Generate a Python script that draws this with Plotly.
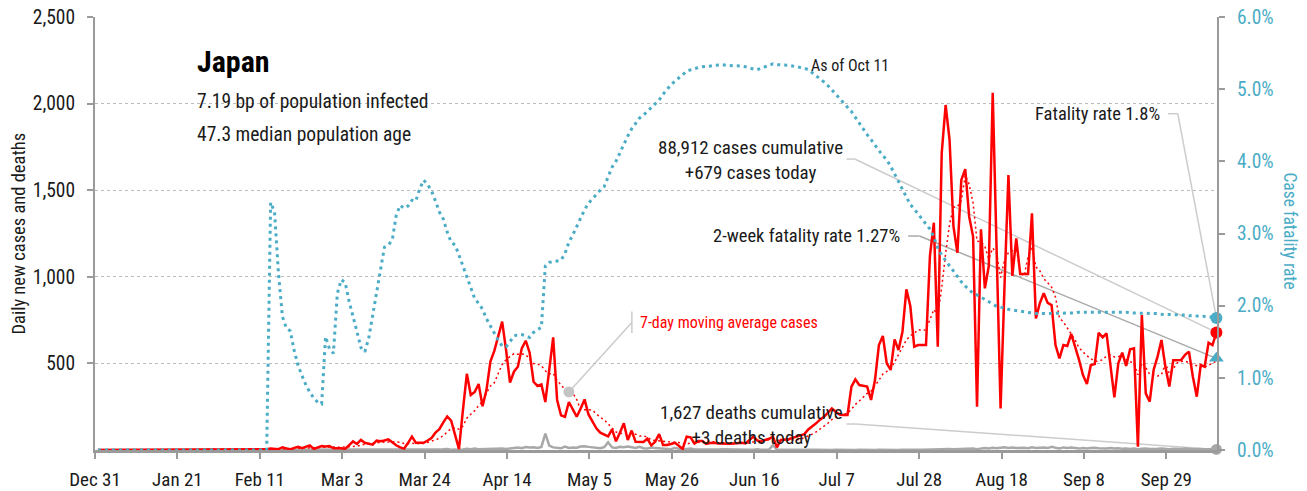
import pandas as pd
import plotly.graph_objects as go

start_date = '2019-12-31'

# daily new cases, Dec 31 .. Oct 11
cases = [
    0, 0, 0, 0, 0, 0, 0, 0, 0, 0,
    0, 0, 0, 0, 0, 0, 1, 0, 0, 0,
    0, 0, 0, 0, 1, 1, 1, 0, 3, 4,
    4, 3, 2, 0, 2, 0, 0, 0, 2, 0,
    0, 3, 0, 4, 8, 8, 5, 16, 10, 3,
    12, 19, 10, 18, 27, 6, 15, 23, 20, 23,
    10, 12, 10, 6, 30, 50, 35, 58, 42, 35,
    31, 54, 50, 55, 62, 45, 27, 15, 8, 40,
    77, 42, 40, 42, 55, 69, 100, 120, 160, 194,
    170, 90, 5, 230, 440, 318, 335, 381, 253, 346,
    510, 572, 655, 741, 577, 389, 452, 481, 587, 631,
    562, 394, 370, 379, 277, 462, 650, 289, 200, 192,
    277, 235, 192, 240, 292, 205, 165, 125, 100, 90,
    79, 119, 50, 100, 154, 58, 112, 48, 46, 46,
    65, 27, 48, 92, 29, 29, 35, 42, 25, 6,
    77, 73, 38, 52, 52, 35, 40, 42, 38, 36,
    35, 36, 38, 42, 42, 38, 55, 77, 55, 48,
    58, 65, 77, 15, 58, 60, 62, 70, 77, 85,
    92, 119, 135, 154, 175, 192, 215, 240, 221, 205,
    202, 202, 366, 408, 375, 370, 366, 289, 404, 606,
    658, 500, 462, 639, 577, 683, 928, 831, 597, 606,
    606, 606, 1120, 1312, 597, 1713, 1992, 1790, 1290, 1139,
    1559, 1622, 1347, 1232, 250, 1274, 933, 1062, 2063, 1150,
    240, 943, 1588, 1005, 1222, 1016, 1016, 1016, 1366, 760,
    847, 905, 849, 837, 606, 529, 606, 600, 670, 597,
    520, 433, 381, 490, 496, 677, 650, 673, 471, 304,
    500, 562, 485, 581, 587, 19, 779, 327, 279, 462,
    539, 635, 481, 366, 518, 520, 520, 549, 568, 423,
    308, 490, 481, 619, 606, 679,
]

# daily new deaths
deaths = [
    0, 0, 0, 0, 0, 0, 0, 0, 0, 0,
    0, 0, 0, 0, 0, 0, 0, 0, 0, 0,
    0, 0, 0, 0, 0, 0, 0, 0, 0, 0,
    0, 0, 0, 0, 0, 0, 0, 0, 0, 0,
    0, 0, 0, 0, 1, 0, 0, 0, 0, 0,
    0, 0, 0, 0, 0, 0, 0, 1, 2, 0,
    1, 2, 1, 0, 0, 1, 0, 0, 1, 1,
    2, 2, 2, 1, 2, 2, 4, 2, 1, 2,
    3, 2, 4, 3, 2, 1, 2, 3, 4, 6,
    2, 3, 0, 3, 7, 5, 8, 4, 5, 8,
    7, 10, 12, 9, 6, 8, 12, 14, 10, 17,
    14, 16, 12, 18, 95, 25, 15, 12, 10, 20,
    12, 15, 13, 20, 22, 18, 15, 12, 10, 16,
    45, 15, 12, 18, 16, 20, 14, 12, 18, 10,
    8, 14, 12, 10, 6, 8, 5, 12, 7, 3,
    6, 9, 5, 4, 3, 6, 4, 2, 3, 5,
    4, 2, 3, 1, 3, 2, 1, 2, 4, 1,
    0, 2, 28, 2, 1, 3, 1, 2, 0, 1,
    2, 0, 1, 1, 0, 2, 1, 0, 1, 0,
    1, 0, 1, 0, 1, 0, 0, 1, 0, 1,
    0, 2, 0, 1, 0, 2, 1, 0, 2, 1,
    2, 3, 1, 2, 5, 3, 4, 6, 4, 5,
    8, 7, 6, 8, 5, 10, 12, 9, 13, 10,
    14, 16, 12, 15, 11, 14, 13, 10, 16, 12,
    15, 14, 11, 18, 13, 9, 15, 12, 14, 10,
    8, 12, 9, 11, 13, 10, 8, 9, 11, 8,
    10, 7, 9, 6, 8, 5, 7, 9, 6, 5,
    7, 8, 6, 4, 7, 5, 6, 8, 5, 4,
    6, 7, 5, 4, 6, 3,
]

# case fatality rate, %
fatality_pct = [
    0, 0, 0, 0, 0, 0, 0, 0, 0, 0,
    0, 0, 0, 0, 0, 0, 0, 0, 0, 0,
    0, 0, 0, 0, 0, 0, 0, 0, 0, 0,
    0, 0, 0, 0, 0, 0, 0, 0, 0, 0,
    0, 0, 0, 0, 3.43, 3.30, 2.45, 1.85, 1.69, 1.65,
    1.38, 1.17, 1.03, 0.90, 0.80, 0.72, 0.66, 0.64, 1.57, 1.40,
    1.34, 2.17, 2.36, 2.32, 2.06, 1.83, 1.64, 1.42, 1.36, 1.55,
    1.87, 2.22, 2.54, 2.81, 2.84, 2.91, 3.25, 3.39, 3.35, 3.38,
    3.46, 3.45, 3.62, 3.74, 3.68, 3.59, 3.45, 3.30, 3.20, 3.02,
    2.88, 2.84, 2.70, 2.55, 2.40, 2.24, 2.10, 2.03, 1.95, 1.82,
    1.72, 1.60, 1.52, 1.44, 1.43, 1.50, 1.58, 1.60, 1.60, 1.58,
    1.56, 1.63, 1.66, 1.70, 2.55, 2.60, 2.61, 2.62, 2.63, 2.72,
    2.88, 2.98, 3.10, 3.22, 3.33, 3.42, 3.48, 3.55, 3.60, 3.65,
    3.78, 3.92, 4.00, 4.12, 4.23, 4.35, 4.45, 4.52, 4.60, 4.64,
    4.69, 4.74, 4.79, 4.85, 4.93, 5.00, 5.06, 5.11, 5.15, 5.20,
    5.25, 5.27, 5.29, 5.30, 5.31, 5.31, 5.32, 5.33, 5.34, 5.34,
    5.33, 5.33, 5.33, 5.32, 5.32, 5.31, 5.29, 5.28, 5.27, 5.29,
    5.31, 5.33, 5.35, 5.34, 5.34, 5.33, 5.33, 5.32, 5.31, 5.31,
    5.29, 5.27, 5.23, 5.19, 5.14, 5.10, 5.05, 4.99, 4.93, 4.87,
    4.82, 4.76, 4.69, 4.61, 4.53, 4.44, 4.37, 4.30, 4.22, 4.15,
    4.08, 4.02, 3.93, 3.82, 3.72, 3.60, 3.50, 3.40, 3.34, 3.27,
    3.21, 3.14, 3.06, 2.95, 2.80, 2.70, 2.62, 2.55, 2.48, 2.40,
    2.33, 2.27, 2.22, 2.17, 2.15, 2.12, 2.08, 2.05, 2.02, 1.99,
    1.98, 1.96, 1.95, 1.94, 1.93, 1.92, 1.91, 1.90, 1.89, 1.89,
    1.89, 1.89, 1.89, 1.89, 1.89, 1.89, 1.90, 1.90, 1.90, 1.90,
    1.91, 1.91, 1.91, 1.91, 1.91, 1.92, 1.92, 1.92, 1.92, 1.92,
    1.91, 1.91, 1.91, 1.90, 1.90, 1.90, 1.90, 1.89, 1.89, 1.89,
    1.89, 1.88, 1.88, 1.88, 1.88, 1.87, 1.87, 1.87, 1.86, 1.86,
    1.86, 1.86, 1.85, 1.85, 1.84, 1.83,
]

tick_labels = ['Dec 31', 'Jan 21', 'Feb 11', 'Mar 3', 'Mar 24', 'Apr 14', 'May 5',
               'May 26', 'Jun 16', 'Jul 7', 'Jul 28', 'Aug 18', 'Sep 8', 'Sep 29']
left_ticks = [500, 1000, 1500, 2000, 2500]

country = 'Japan'
infected_bp = 7.19
median_age = 47.3
cumulative_cases = 88912
cumulative_deaths = 1627
fatality_rate = 1.8
two_week_rate = 1.27
as_of = 'Oct 11'

FONT = 'Roboto Condensed, Liberation Sans Narrow, Roboto, sans-serif'
RED = '#ff0000'
GREY = '#a8a8a8'
TEAL = '#4bacc6'
AXIS = '#9a9a9a'
LEADER = '#cccccc'
INK = '#1a1a1a'

start = pd.Timestamp(start_date)
dates = pd.date_range(start, periods=len(cases), freq='D') + pd.Timedelta(hours=18)
ma7 = pd.Series(cases).rolling(7, min_periods=1).mean()
last = dates[-1]


def day(n):
    return (start + pd.Timedelta(days=n)).strftime('%Y-%m-%d %H:%M')


fig = go.Figure()

fig.add_scatter(x=dates, y=fatality_pct, yaxis='y2', mode='lines',
                line=dict(color=TEAL, width=3, dash='3px,4px'))
fig.add_scatter(x=dates, y=deaths, mode='lines', line=dict(color=GREY, width=2.5))
fig.add_scatter(x=dates, y=cases, mode='lines', line=dict(color=RED, width=2.5))
fig.add_scatter(x=dates, y=ma7, mode='lines', line=dict(color=RED, width=1.5, dash='2px,3px'))

# end markers
fig.add_scatter(x=[last], y=[deaths[-1]], mode='markers', cliponaxis=False,
                marker=dict(color=GREY, size=11))
fig.add_scatter(x=[last], y=[cases[-1]], mode='markers', cliponaxis=False,
                marker=dict(color=RED, size=12))
fig.add_scatter(x=[last], y=[fatality_pct[-1]], yaxis='y2', mode='markers', cliponaxis=False,
                marker=dict(color=TEAL, size=12))
fig.add_scatter(x=[last], y=[two_week_rate], yaxis='y2', mode='markers', cliponaxis=False,
                marker=dict(color=TEAL, size=13, symbol='triangle-up'))
fig.add_scatter(x=[dates[120]], y=[ma7[120]], mode='markers',
                marker=dict(color='#c4c4c4', size=11))

shapes = [
    # fatality rate
    dict(type='line', xref='x', yref='y2', x0=day(273.4), y0=4.66, x1=day(275.9), y1=4.66),
    dict(type='line', xref='x', yref='y2', x0=day(275.9), y0=4.66, x1=last, y1=fatality_pct[-1]),
    # cumulative cases
    dict(type='line', xref='x', yref='y', x0=day(191.5), y0=1680, x1=day(193.6), y1=1680),
    dict(type='line', xref='x', yref='y', x0=day(193.6), y0=1680, x1=last, y1=cases[-1]),
    # 2-week rate
    dict(type='line', xref='x', yref='y2', x0=day(207.2), y0=2.965, x1=day(210.1), y1=2.965,
         line=dict(color='#aaaaaa', width=1.5)),
    dict(type='line', xref='x', yref='y2', x0=day(210.1), y0=2.965, x1=last, y1=two_week_rate,
         line=dict(color='#aaaaaa', width=1.5)),
    # cumulative deaths
    dict(type='line', xref='x', yref='y', x0=day(191.5), y0=150, x1=day(193.8), y1=150),
    dict(type='line', xref='x', yref='y', x0=day(193.8), y0=150, x1=last, y1=deaths[-1]),
    # 7-day average callout
    dict(type='line', xref='x', yref='y', x0=day(136.8), y0=675, x1=day(136.8), y1=800),
    dict(type='line', xref='x', yref='y', x0=day(136.8), y0=736, x1=dates[120], y1=ma7[120]),
]
for s in shapes:
    s.setdefault('line', dict(color=LEADER, width=1.5))
    s['layer'] = 'below'

annotations = [
    dict(text=f'<b>{country}</b>', x=0.0891, y=0.898, font=dict(size=30, color='#000')),
    dict(text=f'{infected_bp} bp of population infected', x=0.0891, y=0.806,
         font=dict(size=19.5, color=INK)),
    dict(text=f'{median_age} median population age', x=0.0891, y=0.7275,
         font=dict(size=19.5, color=INK)),
    dict(text=f'As of {as_of}', x=0.636, y=0.887, font=dict(size=16, color=INK)),
    dict(text=f'{cumulative_cases:,} cases cumulative<br>+{cases[-1]} cases today',
         x=0.584, y=0.67, xanchor='center', align='center', font=dict(size=19, color=INK)),
    dict(text=f'Fatality rate {fatality_rate}%', x=0.951, y=0.776, xanchor='right',
         font=dict(size=18.5, color=INK)),
    dict(text=f'2-week fatality rate {two_week_rate}%', x=0.719, y=0.494, xanchor='right',
         font=dict(size=18.5, color=INK)),
    dict(text=f'{cumulative_deaths:,} deaths cumulative<br>+{deaths[-1]} deaths today',
         x=0.585, y=0.0577, xanchor='center', align='center', font=dict(size=19, color=INK)),
    dict(text='7-day moving average cases', x=0.484, y=0.2956, font=dict(size=16, color=RED)),
    dict(text='Daily new cases and deaths', x=-0.0686, y=0.5, xanchor='center',
         textangle=-90, font=dict(size=18.5, color=INK)),
    dict(text='Case fatality rate', x=1.065, y=0.505, xanchor='center',
         textangle=90, font=dict(size=17.5, color=TEAL)),
]
for a in annotations:
    a.update(xref='paper', yref='paper', showarrow=False)
    a.setdefault('xanchor', 'left')
    a.setdefault('yanchor', 'middle')
    a.setdefault('align', 'left')

fig.update_layout(
    width=1291,
    height=483,
    margin=dict(l=87, r=82, t=9, b=41),
    paper_bgcolor='white',
    plot_bgcolor='white',
    showlegend=False,
    hovermode=False,
    font=dict(family=FONT, size=20, color=INK),
    shapes=shapes,
    annotations=annotations,
    xaxis=dict(
        type='date',
        range=[day(0), day(285.9)],
        tickvals=pd.date_range(start, periods=len(tick_labels), freq='21D'),
        ticktext=tick_labels,
        ticks='outside', ticklen=6, tickwidth=2, tickcolor=AXIS,
        ticklabelstandoff=4,
        showline=True, linecolor=AXIS, linewidth=2.5,
        showgrid=False, zeroline=False, automargin=False,
        tickfont=dict(size=19, color=INK),
    ),
    yaxis=dict(
        range=[0, 2500],
        tickvals=left_ticks,
        ticktext=[f'{v:,}' for v in left_ticks],
        ticks='outside', ticklen=6, tickwidth=2, tickcolor=AXIS,
        ticklabelstandoff=8, ticklabeloverflow='allow',
        showline=True, linecolor=AXIS, linewidth=2,
        showgrid=True, gridcolor='#bbbbbb', griddash='dot', gridwidth=1,
        zeroline=False, automargin=False,
        tickfont=dict(size=19.5, color=INK),
    ),
    yaxis2=dict(
        overlaying='y', side='right',
        range=[0, 6], dtick=1, tickformat='.1f', ticksuffix='%',
        ticks='outside', ticklen=6, tickwidth=2, tickcolor=AXIS,
        ticklabelstandoff=8, ticklabeloverflow='allow',
        showline=True, linecolor=AXIS, linewidth=2,
        showgrid=False, zeroline=False, automargin=False,
        tickfont=dict(size=19.5, color=TEAL),
    ),
)

fig.write_html('out.html')
